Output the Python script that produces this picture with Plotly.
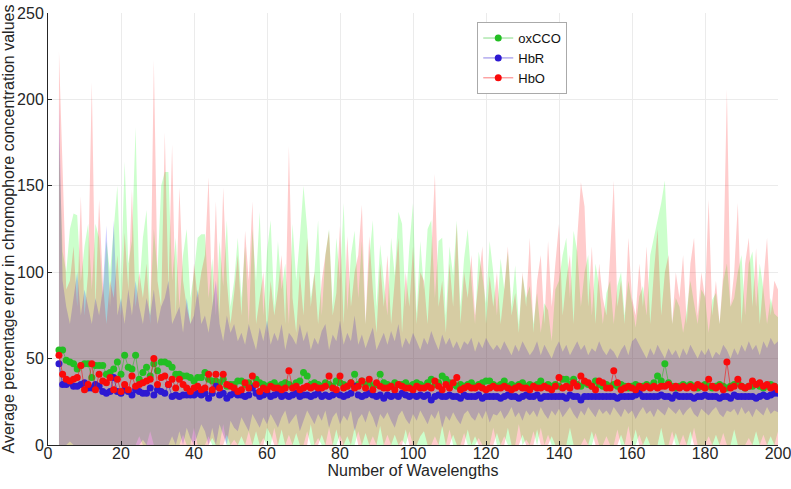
import plotly.graph_objects as go

wavelengths = list(range(3, 201))

hbr_mean = [
    47, 35, 35, 36, 34, 34, 35, 36, 33, 33,
    35, 34, 31, 30, 31, 39, 31, 30, 32, 31,
    29, 32, 31, 30, 30, 33, 29, 32, 31, 30,
    35, 28, 29, 28, 29, 29, 29, 29, 30, 29,
    30, 27, 30, 34, 29, 30, 27, 29, 30, 29,
    29, 28, 29, 33, 30, 28, 29, 30, 28, 29,
    30, 28, 29, 28, 29, 30, 28, 29, 29, 28,
    29, 30, 28, 29, 28, 29, 30, 29, 28, 29,
    30, 34, 29, 28, 29, 30, 29, 28, 29, 27,
    29, 28, 29, 28, 30, 29, 28, 29, 28, 29,
    28, 29, 26, 28, 29, 28, 28, 29, 28, 28,
    27, 29, 28, 28, 28, 29, 27, 28, 28, 28,
    28, 27, 28, 29, 28, 28, 27, 28, 29, 28,
    28, 29, 27, 28, 28, 28, 28, 28, 28, 27,
    29, 28, 28, 26, 28, 28, 28, 28, 28, 28,
    28, 28, 28, 27, 28, 28, 28, 28, 29, 30,
    28, 28, 28, 28, 28, 29, 28, 28, 27, 29,
    28, 28, 28, 28, 27, 28, 28, 29, 28, 28,
    28, 27, 28, 28, 27, 29, 28, 28, 28, 28,
    28, 27, 28, 29, 28, 29, 30, 30,
]

hbo_mean = [
    52, 41, 38, 37, 38, 39, 46, 32, 35, 47,
    32, 41, 37, 36, 39, 32, 38, 31, 35, 32,
    40, 34, 35, 36, 37, 38, 50, 35, 39, 40,
    35, 38, 33, 38, 35, 33, 31, 33, 34, 32,
    33, 41, 32, 41, 33, 41, 35, 34, 33, 31,
    32, 36, 33, 40, 35, 31, 33, 32, 34, 33,
    33, 32, 33, 43, 33, 34, 32, 33, 34, 33,
    34, 33, 33, 34, 40, 33, 32, 40, 33, 34,
    36, 33, 34, 37, 33, 38, 32, 36, 34, 33,
    33, 34, 32, 35, 34, 33, 33, 32, 34, 33,
    33, 34, 33, 37, 34, 32, 35, 33, 36, 39,
    32, 33, 34, 33, 33, 34, 33, 32, 33, 34,
    33, 33, 34, 33, 32, 33, 34, 33, 33, 32,
    34, 33, 33, 34, 33, 32, 34, 39, 33, 34,
    33, 36, 34, 40, 37, 36, 34, 32, 37, 36,
    33, 33, 43, 36, 32, 33, 34, 33, 32, 34,
    33, 34, 33, 34, 33, 34, 34, 35, 33, 34,
    33, 34, 33, 34, 33, 35, 34, 33, 38, 34,
    33, 34, 32, 48, 33, 34, 38, 34, 33, 34,
    37, 35, 36, 34, 35, 33, 34, 32,
]

oxcco_mean = [
    55, 55, 49, 48, 47, 44, 46, 47, 47, 39,
    46, 46, 46, 41, 42, 44, 48, 41, 52, 45,
    44, 52, 38, 42, 45, 40, 47, 43, 48, 48,
    47, 45, 41, 41, 40, 40, 39, 37, 39, 39,
    42, 38, 37, 37, 36, 38, 34, 35, 35, 37,
    37, 35, 36, 34, 38, 36, 35, 34, 35, 36,
    34, 35, 36, 35, 34, 36, 37, 42, 40, 35,
    36, 35, 34, 36, 35, 34, 37, 36, 35, 34,
    36, 41, 35, 37, 35, 36, 34, 35, 41, 36,
    35, 34, 36, 35, 35, 36, 34, 35, 36, 35,
    34, 36, 38, 35, 36, 40, 38, 36, 35, 34,
    35, 34, 35, 36, 34, 35, 36, 37, 37, 35,
    34, 35, 37, 34, 35, 34, 35, 36, 34, 35,
    34, 35, 37, 34, 35, 34, 35, 34, 38, 38,
    35, 38, 35, 34, 36, 35, 34, 37, 35, 34,
    35, 34, 35, 34, 35, 34, 33, 34, 35, 34,
    34, 35, 34, 36, 40, 37, 47, 36, 34, 33,
    34, 35, 34, 35, 34, 33, 34, 35, 34, 33,
    34, 35, 34, 33, 34, 35, 36, 34, 33, 34,
    34, 35, 34, 33, 34, 35, 34, 33,
]

oxcco_upper = [
    176, 112, 100, 125, 134, 133, 95, 115, 128, 90,
    128, 120, 85, 118, 100, 125, 150, 95, 164, 105,
    118, 184, 90, 120, 136, 80, 125, 100, 150, 158,
    158, 95, 120, 80, 110, 125, 85, 100, 120, 122,
    122, 85, 108, 75, 118, 92, 130, 80, 95, 120,
    85, 115, 70, 125, 95, 135, 75, 112, 130, 80,
    118, 90, 105, 70, 128, 95, 120, 150, 125, 85,
    100, 130, 75, 110, 125, 80, 120, 95, 140, 78,
    110, 124, 85, 118, 70, 108, 130, 80, 116, 95,
    75, 120, 98, 135, 128, 80, 115, 140, 76, 118,
    90, 125, 130, 85, 118, 120, 75, 115, 98, 130,
    80, 108, 125, 95, 70, 112, 98, 82, 118, 100,
    75, 108, 90, 112, 80, 104, 70, 98, 85, 92,
    70, 88, 65, 82, 78, 60, 90, 95, 110, 120,
    85, 124, 112, 80, 100, 110, 75, 105, 92, 70,
    88, 95, 70, 92, 100, 75, 95, 82, 68, 86,
    92, 75, 110, 120, 130, 140, 153, 105, 70, 85,
    80, 65, 78, 95, 82, 70, 90, 86, 65, 84,
    88, 70, 95, 105, 80, 85, 100, 110, 75, 105,
    112, 80, 105, 90, 70, 85, 76, 74,
]

hbo_upper = [
    228, 160, 90, 95, 115, 80, 144, 75, 100, 210,
    80, 142, 95, 70, 95, 85, 110, 75, 123, 90,
    148, 80, 100, 85, 105, 70, 223, 95, 80, 181,
    90, 174, 75, 149, 95, 80, 70, 105, 85, 100,
    110, 155, 80, 141, 75, 149, 95, 70, 88, 110,
    75, 124, 95, 141, 70, 85, 100, 65, 95, 75,
    90, 110, 70, 173, 85, 65, 100, 75, 120, 80,
    100, 70, 95, 110, 124, 75, 88, 127, 70, 121,
    80, 100, 110, 139, 70, 121, 90, 65, 105, 80,
    110, 70, 95, 120, 65, 100, 80, 115, 70, 100,
    95, 70, 110, 157, 80, 95, 65, 105, 80, 128,
    70, 100, 85, 110, 75, 95, 115, 70, 98, 80,
    100, 70, 90, 115, 75, 88, 65, 100, 80, 120,
    65, 95, 110, 70, 118, 80, 105, 128, 75, 95,
    110, 70, 120, 152, 138, 80, 115, 70, 105, 85,
    75, 110, 153, 80, 95, 70, 120, 85, 75, 105,
    80, 115, 70, 100, 125, 75, 100, 110, 70, 100,
    85, 110, 70, 105, 120, 75, 100, 85, 142, 75,
    95, 70, 100, 206, 80, 100, 140, 70, 105, 120,
    80, 114, 70, 95, 120, 75, 95, 90,
]

hbr_upper = [
    200, 95, 80, 70, 85, 100, 75, 90, 80, 70,
    85, 75, 90, 127, 80, 130, 75, 85, 70, 90,
    75, 95, 80, 70, 85, 75, 90, 70, 80, 85,
    95, 70, 75, 80, 65, 85, 70, 75, 90, 70,
    75, 65, 80, 95, 70, 60, 75, 65, 70, 60,
    65, 58, 70, 62, 55, 68, 60, 72, 58, 65,
    60, 70, 55, 65, 62, 58, 70, 60, 66, 55,
    62, 58, 66, 70, 55, 64, 60, 72, 58, 65,
    60, 75, 58, 64, 56, 62, 68, 55, 60, 65,
    58, 66, 60, 70, 56, 62, 58, 65, 60, 55,
    62, 58, 66, 60, 55, 64, 58, 62, 56, 60,
    55, 60, 58, 62, 54, 60, 56, 62, 58, 55,
    58, 55, 60, 56, 52, 58, 54, 60, 56, 52,
    55, 60, 52, 58, 54, 50, 56, 60, 54, 58,
    52, 56, 60, 55, 58, 52, 56, 54, 60, 55,
    52, 56, 54, 50, 55, 58, 52, 60, 62, 58,
    54, 50, 56, 52, 58, 54, 50, 56, 52, 55,
    50, 56, 52, 58, 54, 50, 55, 52, 56, 50,
    54, 52, 58, 55, 50, 56, 52, 58, 54, 60,
    55, 58, 52, 60, 56, 62, 58, 60,
]

hbr_lower = [
    0, 0, 0, 2, 0, 0, 0, 0, 0, 0,
    0, 0, 0, 0, 0, 0, 0, 0, 0, 0,
    0, 0, 0, 3, 0, 0, 0, 0, 0, 0,
    0, 5, 0, 8, 0, 10, 4, 0, 6, 12,
    8, 0, 10, 0, 12, 6, 0, 14, 10, 8,
    16, 12, 8, 18, 14, 10, 16, 12, 18, 14,
    10, 16, 20, 12, 15, 18, 8, 14, 20, 16,
    12, 18, 14, 20, 10, 16, 19, 12, 17, 14,
    20, 8, 15, 18, 13, 20, 16, 10, 18, 15,
    19, 14, 10, 17, 20, 15, 12, 18, 14, 20,
    16, 12, 18, 15, 20, 10, 17, 14, 19, 15,
    12, 18, 20, 16, 14, 19, 15, 20, 13, 18,
    17, 20, 15, 18, 22, 16, 19, 14, 20, 17,
    20, 16, 22, 18, 15, 20, 17, 21, 16, 19,
    22, 18, 15, 20, 17, 22, 19, 16, 21, 18,
    20, 17, 22, 19, 16, 21, 18, 20, 15, 19,
    22, 18, 20, 16, 21, 19, 17, 22, 20, 18,
    21, 17, 20, 22, 18, 16, 21, 19, 17, 20,
    22, 18, 16, 20, 19, 21, 17, 22, 18, 20,
    16, 21, 19, 17, 22, 18, 20, 19,
]

oxcco_lower = [
    0, 0, 0, 0, 0, 0, 0, 0, 0, 0,
    0, 0, 0, 0, 0, 0, 0, 0, 0, 0,
    0, 0, 5, 0, 0, 8, 0, 0, 0, 0,
    0, 0, 0, 0, 6, 0, 0, 10, 0, 0,
    0, 5, 0, 0, 0, 12, 0, 0, 3, 0,
    0, 0, 8, 0, 0, 0, 4, 0, 0, 10,
    0, 0, 0, 6, 0, 0, 0, 0, 8, 0,
    0, 4, 0, 0, 10, 0, 0, 6, 0, 0,
    0, 0, 8, 0, 0, 0, 5, 0, 0, 0,
    6, 0, 0, 0, 3, 0, 8, 0, 0, 0,
    0, 0, 0, 5, 0, 0, 0, 9, 0, 0,
    0, 7, 0, 0, 0, 4, 0, 0, 0, 10,
    0, 0, 5, 0, 0, 0, 12, 0, 3, 0,
    8, 0, 10, 0, 6, 0, 0, 0, 0, 0,
    0, 0, 0, 0, 4, 0, 0, 7, 0, 0,
    5, 0, 0, 9, 0, 0, 11, 0, 0, 6,
    0, 0, 0, 0, 0, 0, 0, 0, 8, 0,
    0, 6, 0, 0, 10, 0, 0, 0, 5, 0,
    0, 0, 7, 0, 0, 0, 0, 0, 0, 4,
    0, 0, 0, 6, 0, 0, 0, 8,
]

hbo_lower = [
    0, 0, 0, 0, 0, 0, 0, 0, 0, 0,
    0, 0, 0, 0, 0, 0, 0, 0, 0, 0,
    0, 0, 0, 0, 0, 0, 0, 0, 0, 0,
    0, 0, 0, 0, 0, 0, 0, 0, 0, 0,
    0, 0, 4, 0, 0, 0, 6, 0, 0, 0,
    5, 0, 0, 0, 8, 0, 0, 10, 6, 0,
    0, 9, 0, 0, 0, 7, 0, 0, 0, 12,
    0, 0, 6, 0, 0, 0, 9, 0, 0, 5,
    0, 10, 0, 0, 7, 0, 0, 0, 11, 0,
    0, 0, 6, 0, 0, 9, 0, 0, 0, 5,
    8, 0, 0, 0, 0, 11, 0, 0, 6, 0,
    0, 0, 9, 0, 5, 0, 0, 0, 0, 0,
    7, 0, 0, 10, 0, 0, 0, 6, 0, 0,
    0, 9, 0, 0, 0, 5, 0, 0, 0, 0,
    10, 0, 0, 0, 0, 0, 8, 0, 0, 0,
    0, 0, 0, 0, 6, 0, 0, 0, 9, 0,
    0, 5, 0, 0, 0, 10, 0, 0, 0, 7,
    0, 0, 0, 8, 0, 0, 0, 0, 0, 0,
    6, 0, 0, 0, 0, 9, 0, 0, 0, 0,
    0, 8, 0, 0, 0, 5, 0, 0,
]

series_names = ["oxCCO", "HbR", "HbO"]
means = [oxcco_mean, hbr_mean, hbo_mean]
uppers = [oxcco_upper, hbr_upper, hbo_upper]
lowers = [oxcco_lower, hbr_lower, hbo_lower]

for arr in means + uppers + lowers:
    assert len(arr) == len(wavelengths), len(arr)

band_colors = ["rgba(0,255,0,0.2)", "rgba(0,0,255,0.2)", "rgba(255,0,0,0.2)"]
marker_colors = ["rgb(35,190,35)", "rgb(45,25,210)", "rgb(250,10,10)"]
line_colors = ["rgba(35,190,35,0.55)", "rgba(45,25,210,0.55)", "rgba(250,10,10,0.55)"]

FONT = "Liberation Sans, Arial, Helvetica, sans-serif"
fig = go.Figure()

for name, up, lo, col in zip(series_names, uppers, lowers, band_colors):
    fig.add_trace(go.Scatter(
        x=wavelengths + wavelengths[::-1],
        y=up + lo[::-1],
        fill="toself", fillcolor=col, mode="none",
        line=dict(width=0), hoverinfo="skip", showlegend=False,
    ))

for name, m, mc, lc in zip(series_names, means, marker_colors, line_colors):
    fig.add_trace(go.Scatter(
        x=wavelengths, y=m, name=name, mode="lines+markers",
        line=dict(color=lc, width=1),
        marker=dict(color=mc, size=7),
    ))

axis_common = dict(
    showgrid=True, gridcolor="#ebebeb", gridwidth=1,
    showline=True, linecolor="#262626", linewidth=1,
    ticks="inside", ticklen=4, tickcolor="#262626",
    tickfont=dict(family=FONT, size=16, color="#262626"),
    zeroline=False, mirror=False, automargin=False,
    ticklabeloverflow="allow",
)

fig.update_layout(
    width=791, height=489,
    margin=dict(l=48, r=13, t=13, b=44),
    paper_bgcolor="white", plot_bgcolor="white",
    font=dict(family=FONT, color="#262626"),
    xaxis=dict(range=[0, 200], dtick=20, ticklabelstandoff=-6,
               title=dict(text="Number of Wavelengths", font=dict(size=16, family=FONT), standoff=0),
               **axis_common),
    yaxis=dict(range=[0, 250], dtick=50,
               title=dict(text="Average percentage error in chromophore concentration values",
                          font=dict(size=16, family=FONT), standoff=4),
               **axis_common),
    legend=dict(x=0.588, y=0.979, xanchor="left", yanchor="top",
                bgcolor="white", bordercolor="#aaaaaa", borderwidth=1,
                font=dict(family=FONT, size=13, color="#111111"),
                itemwidth=30, tracegroupgap=0),
    showlegend=True,
)

fig.write_html("out.html", config={"displayModeBar": False},
               post_script="document.body.style.margin='0';document.body.style.padding='0';")
